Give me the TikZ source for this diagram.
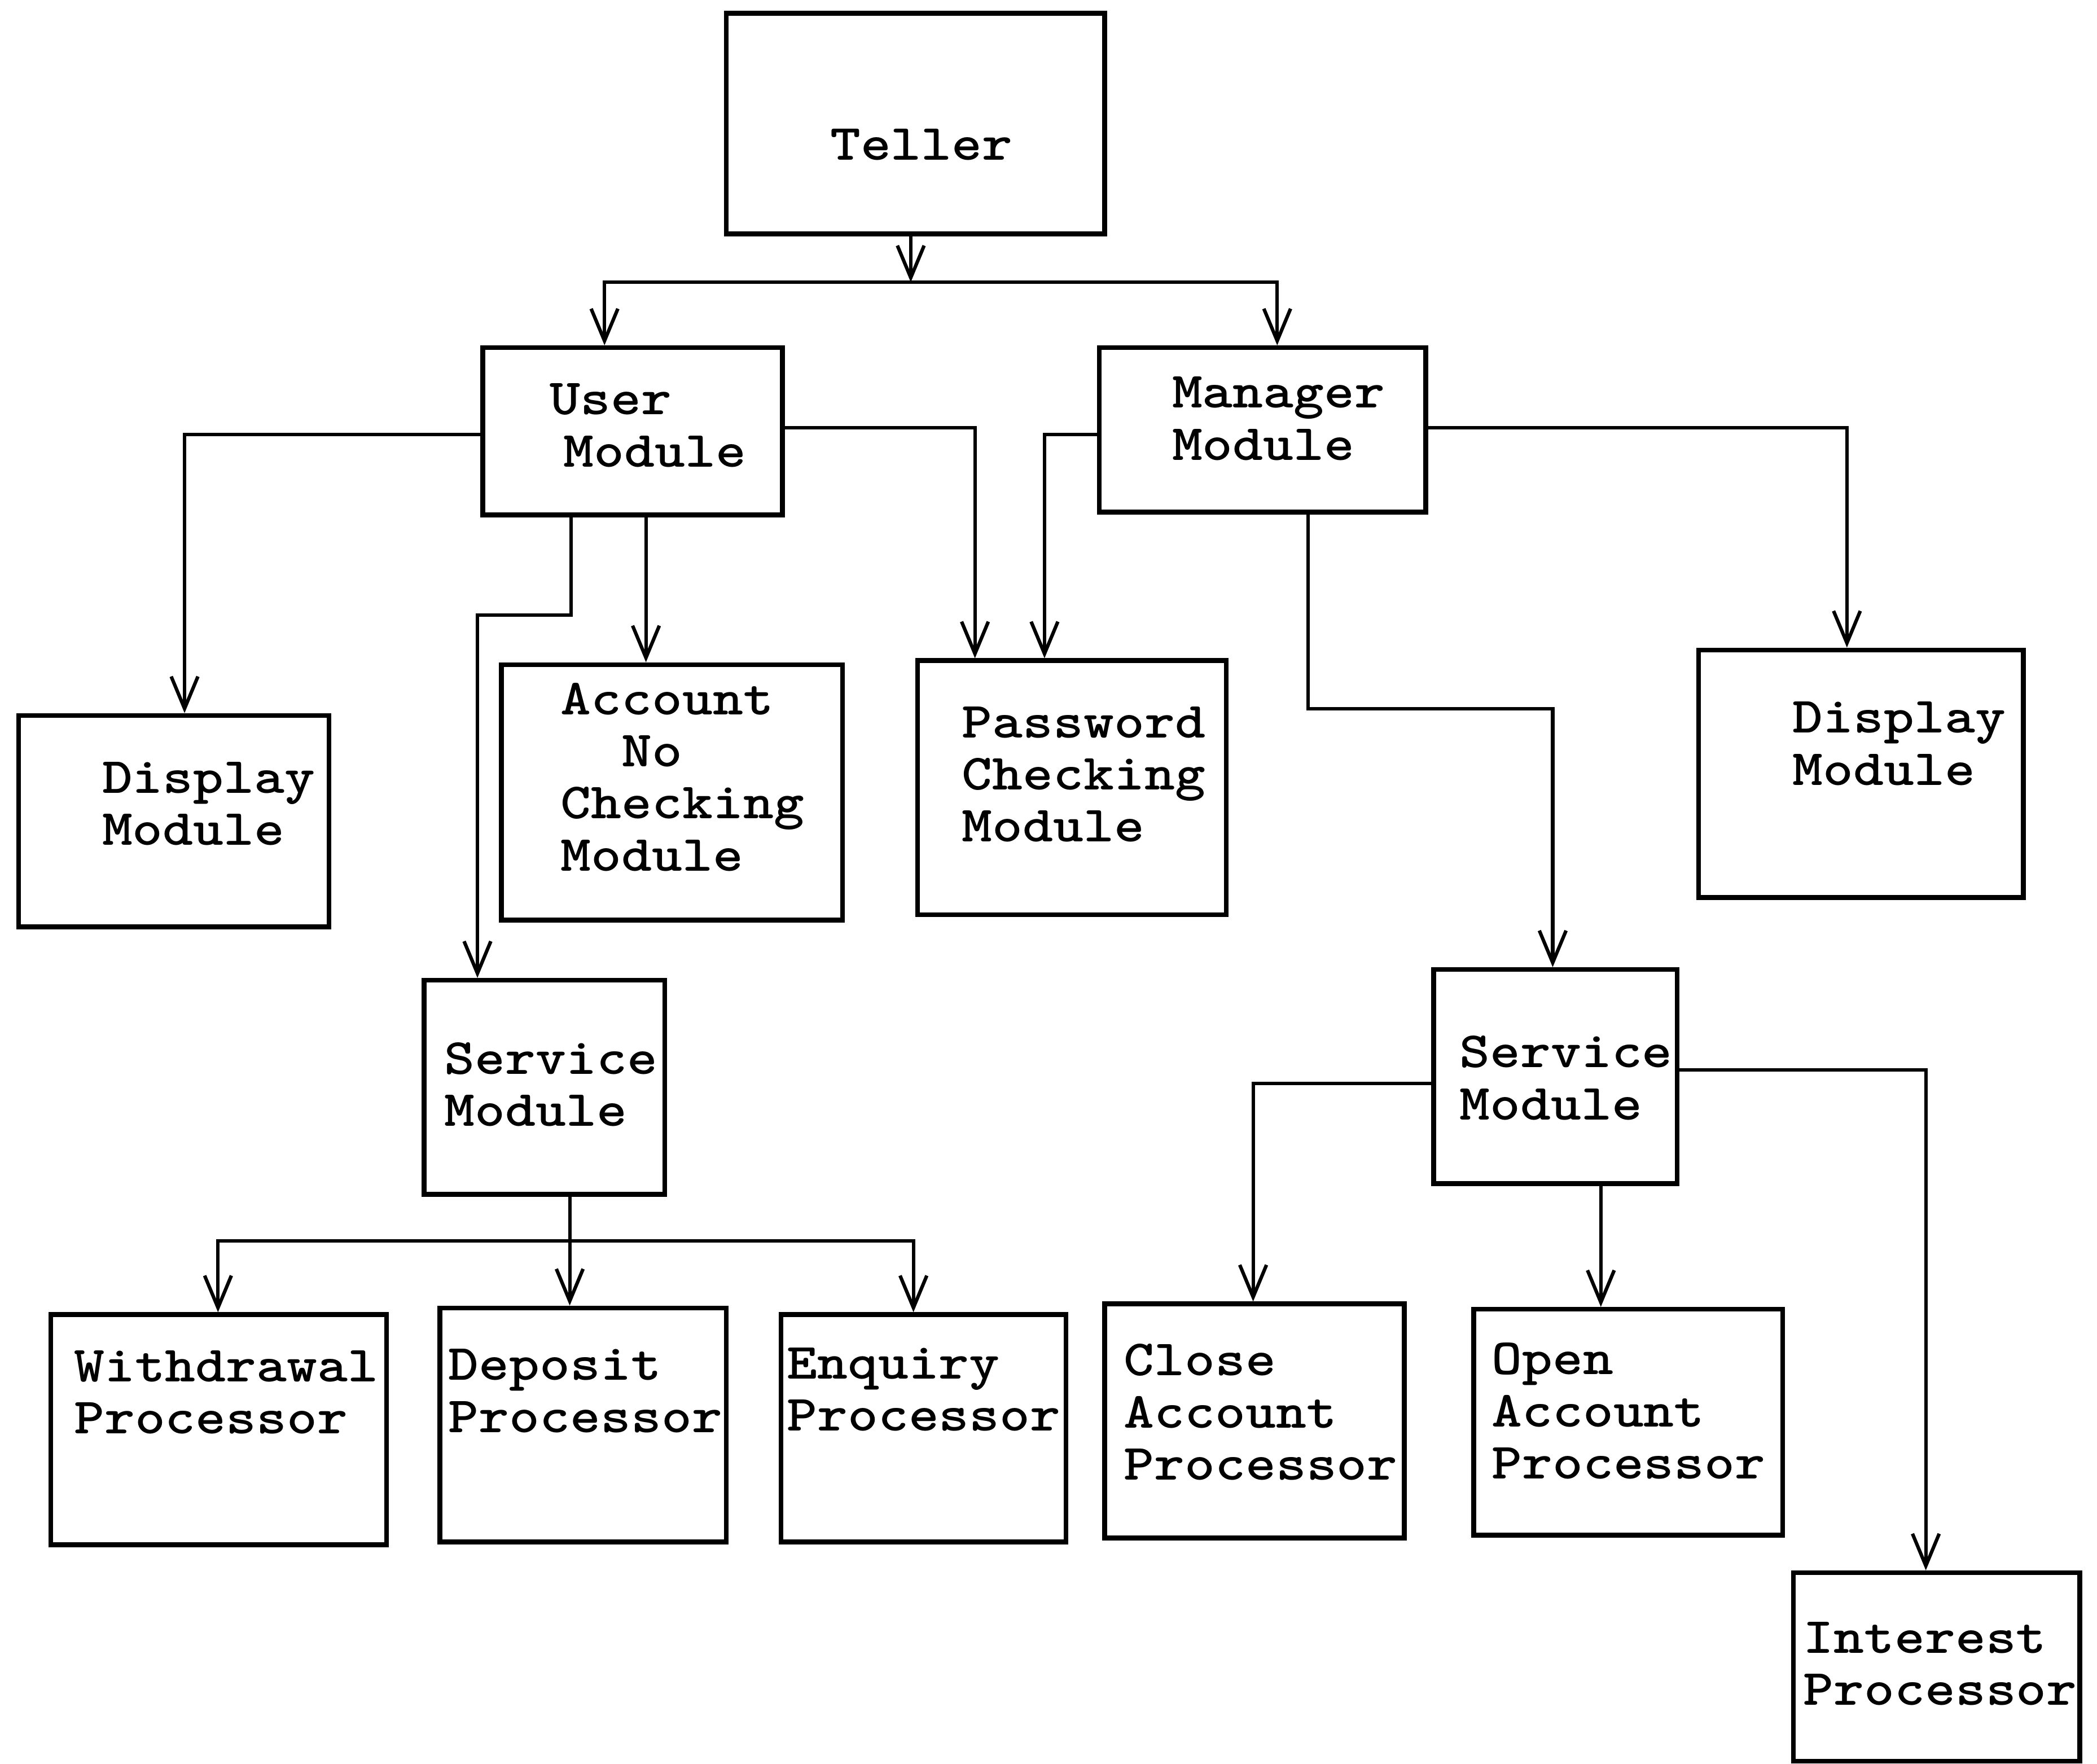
\documentclass[tikz,border=0pt]{standalone}
\usepackage{fontspec}
\newfontfamily\tw{lmmonolt10-bold.otf}[FakeStretch=1.14]
\usetikzlibrary{arrows.meta,fit}
\begin{document}
\begin{tikzpicture}[x=0.5pt,y=-0.5pt,
  box/.style={draw,line width=1.8pt,inner sep=0pt},
  txt/.style={inner sep=0pt,anchor=west,align=left,font=\tw\fontsize{19}{19.5}\selectfont},
  arr/.style={line width=1.3pt,-{Straight Barb[length=12pt,width=10pt]}},
  ln/.style={line width=1.3pt}]
\fill[white] (0,0) rectangle (1568,1319);
\useasboundingbox (0,0) rectangle (1568,1319);
% boxes
\node[box,fit={(543,10) (826,175)}] (teller) {};
\node[box,fit={(361,260) (585,385)}] (user) {};
\node[box,fit={(822,260) (1066,383)}] (mgr) {};
\node[box,fit={(14,535) (246,693)}] (dispL) {};
\node[box,fit={(375,497) (630,688)}] (acct) {};
\node[box,fit={(686,494) (917,684)}] (pw) {};
\node[box,fit={(1270,486) (1513,671)}] (dispR) {};
\node[box,fit={(317,733) (497,893)}] (servL) {};
\node[box,fit={(1072,725) (1254,885)}] (servR) {};
\node[box,fit={(38,983) (289,1155)}] (wd) {};
\node[box,fit={(329,978) (543,1153)}] (dp) {};
\node[box,fit={(584,983) (797,1153)}] (en) {};
\node[box,fit={(826,975) (1050,1150)}] (cl) {};
\node[box,fit={(1102,979) (1333,1148)}] (op) {};
\node[box,fit={(1341,1176) (1555,1317)}] (it) {};
% texts
\node[txt,anchor=center] (tTeller) at (689,108) {Teller};
\node[txt] (tUser) at (411,318) {User\\\hspace*{5pt}Module};
\node[txt] (tMgr) at (876,313) {Manager\\Module};
\node[txt] (tDispL) at (76,601) {Display\\Module};
\node[txt] (tAcct) at (419,581) {Account\\\phantom{Ac}No\\Checking\\Module};
\node[txt] (tPw) at (719,579) {Password\\Checking\\Module};
\node[txt] (tDispR) at (1340,556) {Display\\Module};
\node[txt] (tServL) at (332,811) {Service\\Module};
\node[txt] (tServR) at (1091,806) {Service\\Module};
\node[txt] (tWd) at (55,1041) {Withdrawal\\Processor};
\node[txt] (tDp) at (335,1040) {Deposit\\Processor};
\node[txt] (tEn) at (588,1039) {Enquiry\\Processor};
\node[txt] (tCl) at (840,1056) {Close\\Account\\Processor};
\node[txt] (tOp) at (1115,1055) {Open\\Account\\Processor};
\node[txt] (tIt) at (1348,1244) {Interest\\Processor};
% connectors
\coordinate (j1) at (681,211);
\draw[arr] (teller.south-|681,0) -- (j1);
\draw[arr] (j1) -| (user.north-|452,0);
\draw[arr] (j1) -| (mgr.north-|955,0);
\draw[arr] (user.west|-0,325) -| (dispL.north-|138,0);
\draw[arr] (user.south-|427,0) -- (427,460) -| (servL.north-|357,0);
\draw[arr] (user.south-|483,0) -- (acct.north-|483,0);
\draw[arr] (user.east|-0,320) -| (pw.north-|729,0);
\draw[arr] (mgr.west|-0,325) -| (pw.north-|781,0);
\draw[arr] (mgr.east|-0,320) -| (dispR.north-|1381,0);
\draw[arr] (mgr.south-|978,0) -- (978,530) -| (servR.north-|1161,0);
\coordinate (b1) at (426,928);
\draw[ln] (servL.south-|426,0) -- (b1);
\draw[arr] (b1) -| (wd.north-|163,0);
\draw[arr] (b1) -- (dp.north-|426,0);
\draw[arr] (b1) -| (en.north-|683,0);
\draw[arr] (servR.west|-0,810) -| (cl.north-|937,0);
\draw[arr] (servR.south-|1197,0) -- (op.north-|1197,0);
\draw[arr] (servR.east|-0,800) -| (it.north-|1440,0);
\end{tikzpicture}
\end{document}
